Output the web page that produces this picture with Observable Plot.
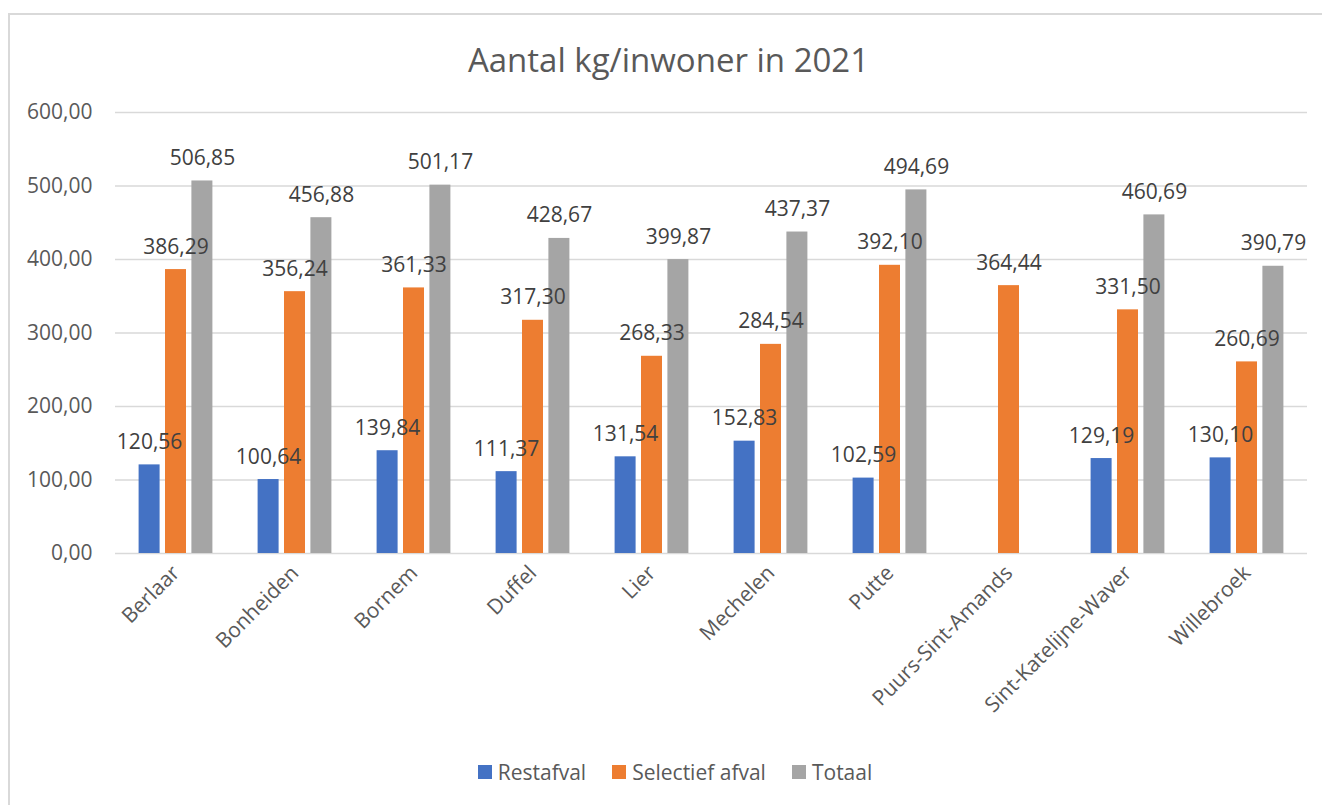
<!DOCTYPE html>
<html>
<head>
<meta charset="utf-8">
<script src="https://cdn.jsdelivr.net/npm/d3@7"></script>
<script src="https://cdn.jsdelivr.net/npm/@observablehq/plot@0.6"></script>
<style>
  html, body { margin: 0; padding: 0; background: #fff; overflow: hidden; width: 1322px; height: 805px; }
  body { position: relative; font-family: "Open Sans", sans-serif; }
  #frame { position: absolute; left: 8px; top: 13px; width: 1330px; height: 810px; border: 2px solid #d9d9d9; box-sizing: border-box; }
  #title { position: absolute; left: 0; top: 44px; width: 1337px; text-align: center; font-size: 33px; line-height: 32px; color: #595959; white-space: nowrap; }
  #chart { position: absolute; left: 0; top: 95px; }
  #legend { position: absolute; left: 0; top: 757px; width: 1350px; height: 30px; display: flex; justify-content: center; align-items: center; font-size: 21px; color: #595959; }
  .item { display: flex; align-items: center; margin: 0 13px; }
  .sw { width: 14px; height: 14px; margin-right: 6px; display: inline-block; }
</style>
</head>
<body>
<div id="frame"></div>
<div id="title">Aantal kg/inwoner in 2021</div>
<div id="chart"></div>
<div id="legend"></div>
<script>
const categories = ["Berlaar", "Bonheiden", "Bornem", "Duffel", "Lier", "Mechelen", "Putte", "Puurs-Sint-Amands", "Sint-Katelijne-Waver", "Willebroek"];
const restafval = [120.56, 100.64, 139.84, 111.37, 131.54, 152.83, 102.59, null, 129.19, 130.10];
const selectiefAfval = [386.29, 356.24, 361.33, 317.30, 268.33, 284.54, 392.10, 364.44, 331.50, 260.69];
const totaal = [506.85, 456.88, 501.17, 428.67, 399.87, 437.37, 494.69, null, 460.69, 390.79];
const seriesNames = ["Restafval", "Selectief afval", "Totaal"];
const seriesColors = ["#4472C4", "#ED7D31", "#A5A5A5"];
const yTicks = [0, 100, 200, 300, 400, 500, 600];

const seriesValues = [restafval, selectiefAfval, totaal];
const rows = [];
seriesValues.forEach((vals, s) => {
  vals.forEach((v, j) => {
    if (v != null) rows.push({category: categories[j], series: seriesNames[s], value: v});
  });
});

const fmt = v => v.toFixed(2).replace(".", ",");
const offsets = [-26.4, 0, 26.4];

const barMarks = seriesNames.map((name, s) =>
  Plot.barY(rows.filter(d => d.series === name), {x: "category", y: "value", fill: seriesColors[s], dx: offsets[s]})
);
const textMarks = seriesNames.map((name, s) =>
  Plot.text(rows.filter(d => d.series === name), {
    x: "category", y: "value", text: d => fmt(d.value), dx: offsets[s], dy: -16,
    lineAnchor: "bottom", fill: "#404040", fontSize: 21
  })
);

const chart = Plot.plot({
  width: 1322,
  height: 640,
  marginTop: 17,
  marginBottom: 182,
  marginLeft: 115,
  marginRight: 15,
  style: {fontFamily: "Open Sans, sans-serif", fontSize: "21px", color: "#595959", background: "transparent", overflow: "visible"},
  x: {domain: categories, paddingInner: 0.825, paddingOuter: 0.4125, label: null},
  y: {domain: [0, 600], label: null},
  marks: [
    Plot.ruleY(yTicks, {stroke: "#d9d9d9", strokeWidth: 1.5}),
    ...barMarks,
    ...textMarks,
    Plot.axisY({ticks: yTicks, tickSize: 0, tickPadding: 23, tickFormat: fmt, label: null}),
    Plot.axisX({tickSize: 0, tickPadding: 16, tickRotate: -45, label: null})
  ]
});
document.getElementById("chart").appendChild(chart);

const legend = document.getElementById("legend");
seriesNames.forEach((name, s) => {
  const item = document.createElement("div");
  item.className = "item";
  const sw = document.createElement("span");
  sw.className = "sw";
  sw.style.background = seriesColors[s];
  const label = document.createElement("span");
  label.textContent = name;
  item.appendChild(sw);
  item.appendChild(label);
  legend.appendChild(item);
});
</script>
</body>
</html>
